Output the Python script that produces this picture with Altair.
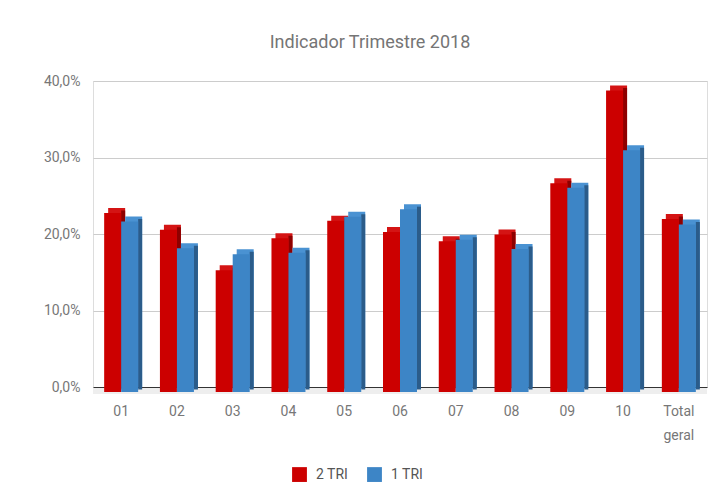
import altair as alt
import pandas as pd

categories = ["01", "02", "03", "04", "05", "06", "07", "08", "09", "10", "Total geral"]
series_names = ["2 TRI", "1 TRI"]
tri2 = [0.234, 0.212, 0.159, 0.201, 0.224, 0.209, 0.197, 0.206, 0.273, 0.394, 0.226]
tri1 = [0.223, 0.188, 0.180, 0.182, 0.229, 0.239, 0.199, 0.187, 0.267, 0.316, 0.219]
y_ticks = [0.0, 0.1, 0.2, 0.3, 0.4]

rows = []
for c, a, b in zip(categories, tri2, tri1):
    rows.append({"cat": c, "serie": "2 TRI", "v": a})
    rows.append({"cat": c, "serie": "1 TRI", "v": b})
df = pd.DataFrame(rows)

FONT = "Roboto"
BW = 17
xscale = alt.Scale(domain=categories, paddingInner=0.39, paddingOuter=0.2)
x_enc = alt.X("cat:N", scale=xscale, sort=categories,
              axis=alt.Axis(title=None, labelAngle=0, ticks=False, domain=False,
                            labelFont=FONT, labelFontSize=14, labelColor="#777777",
                            labelPadding=17, labelLineHeight=24,
                            labelExpr="datum.value == 'Total geral' ? ['Total', 'geral'] : datum.label"))
y_enc = alt.Y("v:Q", scale=alt.Scale(domain=[0, 0.4], nice=False),
              axis=alt.Axis(title=None, values=y_ticks, ticks=False, domain=False,
                            labelFont=FONT, labelFontSize=14, labelColor="#777777", labelPadding=13,
                            gridColor={"expr": "datum.value == 0 ? '#333333' : '#cccccc'"},
                            gridWidth=1.2,
                            labelExpr="replace(format(datum.value, '.1%'), '.', ',')"))

color_enc = alt.Color("serie:N", scale=alt.Scale(domain=series_names, range=["#cc0000", "#3d85c6"]),
                      legend=alt.Legend(title=None, orient="none", legendX=199, legendY=386,
                                        direction="horizontal", symbolType="square", symbolSize=220,
                                        symbolStrokeWidth=0, labelFont=FONT, labelFontSize=14,
                                        labelColor="#555555", columnPadding=18, labelOffset=9))

floor = alt.Chart(pd.DataFrame({"z": [0]})).mark_rule(color="#eeeeee", strokeWidth=6, yOffset=4).encode(
    y=alt.Y("z:Q", scale=alt.Scale(domain=[0, 0.4], nice=False)),
    x=alt.value(0), x2=alt.value(614))

base = alt.Chart(df)
top_colors = {"2 TRI": "#d41414", "1 TRI": "#4a92d2"}
side_colors = {"2 TRI": "#8e0000", "1 TRI": "#2b5c8a"}
offsets = {"2 TRI": -BW / 2, "1 TRI": BW / 2}

layers = [floor]
for s in series_names:
    sub = base.transform_filter(alt.datum.serie == s)
    layers.append(sub.mark_bar(width=BW, xOffset=offsets[s] + 4, yOffset=0,
                               color=top_colors[s]).encode(x=x_enc, y=y_enc))
    layers.append(sub.mark_bar(width=4, xOffset=offsets[s] + BW / 2 + 2, yOffset=2.5,
                               color=side_colors[s]).encode(x=x_enc, y=y_enc))
for s in series_names:
    layers.append(base.transform_filter(alt.datum.serie == s).mark_bar(
        width=BW, xOffset=offsets[s], yOffset=5).encode(x=x_enc, y=y_enc, color=color_enc))

chart = alt.layer(*layers).properties(
    width=614, height=306,
    autosize="none",
    padding={"left": 85, "top": 73, "right": 6, "bottom": 105},
    title=alt.TitleParams("Indicador Trimestre 2018", font=FONT, fontSize=18, fontWeight="normal",
                          color="#757575", anchor="middle", dx=-30, offset=22),
).configure_view(stroke=None).configure(background="white")

chart.save("out.html", embed_options={"renderer": "svg", "actions": False})
